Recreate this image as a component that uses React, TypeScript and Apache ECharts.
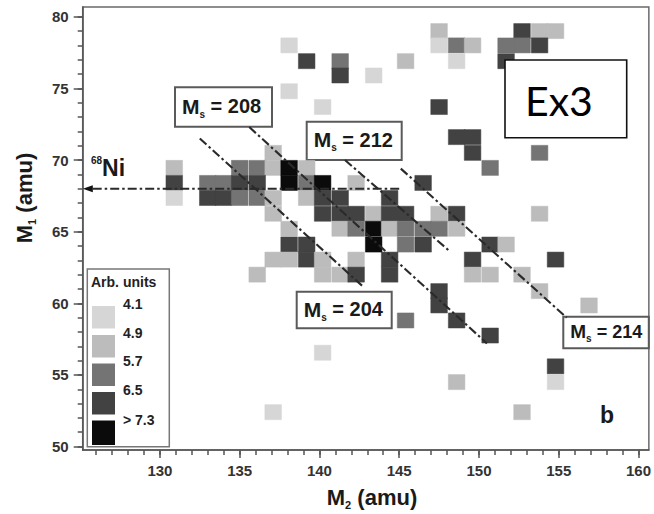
import React, { useEffect, useRef } from "react";
import * as echarts from "echarts";

// ---------- data ----------
// histogram cells: centre M2 (amu), centre M1 (amu), intensity (arb. units)
const cellM2 = [
  138.1, 139.2, 138.1, 140.2, 141.3, 141.3, 143.4, 145.4, 147.5, 147.5, 148.6, 149.6, 148.6,
  152.7, 153.8, 154.8, 151.7, 152.7, 153.8, 151.7, 147.5, 148.6, 149.6, 149.6, 150.7, 153.8,
  137.1,
  130.9, 135.0, 136.1, 137.1, 138.1, 139.2,
  130.9, 133.0, 134.0, 135.0, 136.1, 138.1, 139.2, 140.2, 142.3, 146.5,
  130.9, 133.0, 134.0, 135.0, 136.1, 137.1, 139.2, 140.2, 141.3, 144.4,
  137.1, 140.2, 141.3, 142.3, 143.4, 144.4, 145.4, 147.5, 148.6, 153.8,
  138.1, 141.3, 142.3, 143.4, 144.4, 145.4, 146.5, 147.5, 148.6,
  138.1, 139.2, 143.4, 145.4, 146.5, 150.7, 151.7,
  137.1, 138.1, 139.2, 140.2, 142.3, 144.4, 149.6, 154.8,
  136.1, 140.2, 141.3, 142.3, 144.4, 149.6, 150.7, 152.7,
  147.5, 153.8,
  147.5, 156.9,
  145.4, 148.6,
  150.7,
  140.2,
  154.8,
  148.6, 154.8,
  137.1, 152.7,
];
const cellM1 = [
  78.0, 76.9, 74.8, 73.7, 76.9, 75.9, 75.9, 76.9, 79.0, 78.0, 78.0, 78.0, 76.9,
  79.0, 79.0, 79.0, 78.0, 78.0, 78.0, 76.9, 73.7, 71.6, 71.6, 70.5, 69.45, 70.5,
  70.5,
  69.45, 69.45, 69.45, 69.45, 69.45, 69.45,
  68.4, 68.4, 68.4, 68.4, 68.4, 68.4, 68.4, 68.4, 68.4, 68.4,
  67.35, 67.35, 67.35, 67.35, 67.35, 67.35, 67.35, 67.35, 67.35, 67.35,
  66.25, 66.25, 66.25, 66.25, 66.25, 66.25, 66.25, 66.25, 66.25, 66.25,
  65.2, 65.2, 65.2, 65.2, 65.2, 65.2, 65.2, 65.2, 65.2,
  64.1, 64.1, 64.1, 64.1, 64.1, 64.1, 64.1,
  63.05, 63.05, 63.05, 63.05, 63.05, 63.05, 63.05, 63.05,
  62.0, 62.0, 62.0, 62.0, 62.0, 62.0, 62.0, 62.0,
  60.85, 60.85,
  59.85, 59.85,
  58.8, 58.8,
  57.75,
  56.55,
  55.6,
  54.5, 54.5,
  52.4, 52.4,
];
const cellCounts = [
  4.5, 6.9, 4.5, 4.5, 6.1, 6.9, 4.5, 5.3, 5.3, 4.5, 6.1, 5.3, 4.5,
  6.9, 5.3, 5.3, 6.1, 6.1, 6.9, 6.9, 6.9, 6.9, 6.9, 6.9, 6.1, 6.1,
  5.3,
  5.3, 6.1, 6.1, 5.3, 7.7, 5.3,
  6.9, 6.1, 6.1, 6.9, 6.9, 7.7, 6.1, 7.7, 5.3, 6.9,
  4.5, 6.9, 6.9, 6.1, 6.1, 5.3, 5.3, 6.9, 6.9, 6.9,
  5.3, 6.9, 6.9, 6.9, 5.3, 6.9, 6.9, 5.3, 6.9, 5.3,
  5.3, 5.3, 6.1, 7.7, 5.3, 6.1, 6.1, 6.1, 5.3,
  6.9, 6.9, 7.7, 6.1, 6.9, 6.9, 5.3,
  5.3, 5.3, 6.9, 5.3, 5.3, 6.9, 6.9, 6.9,
  5.3, 5.3, 5.3, 6.9, 6.9, 5.3, 5.3, 5.3,
  6.9, 5.3,
  6.9, 5.3,
  6.1, 6.9,
  6.9,
  4.5,
  6.9,
  5.3, 4.5,
  4.5, 5.3,
];

// constant-mass lines Ms = M1 + M2 (end points)
const msValues = [204, 208, 212, 214];
const msStartM2 = [132.5, 135.6, 141.6, 145.1];
const msStartM1 = [71.5, 72.3, 70.0, 69.4];
const msEndM2 = [142.7, 150.5, 148.2, 155.5];
const msEndM1 = [61.2, 57.2, 63.6, 59.0];

// 68Ni line
const niM1 = 68;
const niFromM2 = 145;

// legend (arb. units)
const legendEdges = [4.1, 4.9, 5.7, 6.5, 7.3];
const legendLabels = ["4.1", "4.9", "5.7", "6.5", "> 7.3"];

// axis ticks
const m2Major = [130, 135, 140, 145, 150, 155, 160];
const m2Minor = [126, 127, 128, 129, 130, 131, 132, 133, 134, 135, 136, 137, 138, 139, 140, 141, 142, 143, 144, 145, 146, 147, 148, 149, 150, 151, 152, 153, 154, 155, 156, 157, 158, 159, 160];
const m1Major = [50, 55, 60, 65, 70, 75, 80];
const m1Minor = [50, 51, 52, 53, 54, 55, 56, 57, 58, 59, 60, 61, 62, 63, 64, 65, 66, 67, 68, 69, 70, 71, 72, 73, 74, 75, 76, 77, 78, 79, 80];

// ---------- styles / layout ----------
const LEVEL_COLORS = ["#d6d6d6", "#bcbcbc", "#747474", "#424242", "#0b0b0b"];
const CELL_W = 1.04;
const CELL_H = 1.05;
const X_MIN = 125.16;
const X_MAX = 160.65;
const Y_MIN = 49.76;
const Y_MAX = 80.68;
const FONT = "'Liberation Sans', Arial, sans-serif";
const LINE_COLOR = "#2a2a2a";
const DASH = [9, 3, 2.5, 3];

const msBoxes = [
  { x: 296.7, y: 291.7, w: 95, h: 36.6, fs: 20 },
  { x: 175, y: 87.3, w: 97, h: 39.4, fs: 20 },
  { x: 306.7, y: 121.7, w: 95, h: 38.3, fs: 20 },
  { x: 563.3, y: 316.7, w: 85.5, h: 31.6, fs: 18 },
];

function colorFor(v: number) {
  let idx = 0;
  for (let i = 0; i < legendEdges.length; i++) if (v >= legendEdges[i]) idx = i;
  return LEVEL_COLORS[idx];
}

function buildOption() {
  const cellData = cellM2.map((x, i) => [x, cellM1[i], cellCounts[i]]);

  const lineSeries = msValues.map((ms, i) => ({
    type: "line",
    name: "Ms=" + ms,
    data: [
      [msStartM2[i], msStartM1[i]],
      [msEndM2[i], msEndM1[i]],
    ],
    showSymbol: false,
    symbol: "none",
    silent: true,
    z: 5,
    lineStyle: { color: LINE_COLOR, width: 2.1, type: DASH },
  }));

  const niSeries = {
    type: "line",
    name: "68Ni",
    data: [
      { value: [niFromM2, niM1], symbol: "none" },
      { value: [X_MIN + 0.32, niM1], symbol: "triangle", symbolSize: [7, 10], symbolRotate: 90 },
    ],
    showSymbol: true,
    silent: true,
    z: 5,
    itemStyle: { color: "#111" },
    lineStyle: { color: LINE_COLOR, width: 2, type: DASH },
  };

  const msGraphics: any[] = msBoxes.map((b, i) => ({
    type: "group",
    z: 50,
    children: [
      {
        type: "rect",
        shape: { x: b.x, y: b.y, width: b.w, height: b.h },
        style: { fill: "#fff", stroke: "#5a5a5a", lineWidth: 2 },
      },
      {
        type: "text",
        x: b.x + 7,
        y: b.y + b.h / 2 - 1,
        style: {
          text: "{m|M}{s|s}{t| = " + msValues[i] + "}",
          verticalAlign: "middle",
          align: "left",
          fill: "#1a1a1a",
          rich: {
            m: { fontSize: b.fs + 1, fontWeight: "bold", fontFamily: FONT, lineHeight: b.fs + 6, fill: "#1a1a1a" },
            s: { fontSize: 10, fontWeight: "bold", fontFamily: FONT, lineHeight: 10, verticalAlign: "bottom", fill: "#1a1a1a" },
            t: { fontSize: b.fs, fontWeight: "bold", fontFamily: FONT, lineHeight: b.fs + 6, fill: "#1a1a1a" },
          },
        },
      },
    ],
  }));

  const swTops = [306, 335, 363.5, 392, 420.5];
  const swH = [22.5, 22.5, 22.5, 22.5, 24.5];
  const labY = [304, 332.5, 361, 389.5, 419.5];
  const legendChildren: any[] = [
    {
      type: "rect",
      shape: { x: 87.3, y: 269, width: 82, height: 177.7 },
      style: { fill: "#fff", stroke: "#777", lineWidth: 1.5 },
    },
    {
      type: "text",
      x: 91,
      y: 282,
      style: { text: "Arb. units", fontSize: 14, fontWeight: "bold", fontFamily: FONT, fill: "#222", verticalAlign: "middle" },
    },
  ];
  legendLabels.forEach((lab, i) => {
    legendChildren.push({
      type: "rect",
      shape: { x: 92, y: swTops[i], width: 23, height: swH[i] },
      style: { fill: LEVEL_COLORS[i] },
    });
    legendChildren.push({
      type: "text",
      x: 123,
      y: labY[i],
      style: { text: lab, fontSize: 14, fontWeight: "bold", fontFamily: FONT, fill: "#222", verticalAlign: "middle" },
    });
  });

  const graphics: any[] = [
    ...msGraphics,
    { type: "group", z: 50, children: legendChildren },
    // Ex3 box
    {
      type: "rect",
      z: 50,
      shape: { x: 505, y: 60, width: 121.7, height: 77.7 },
      style: { fill: "#fff", stroke: "#111", lineWidth: 1.6 },
    },
    {
      type: "text",
      z: 51,
      x: 525,
      y: 100,
      style: { text: "Ex3", fontSize: 41, fontFamily: "Lato, 'Open Sans', sans-serif", fill: "#000", verticalAlign: "middle" },
    },
    // 68Ni label
    {
      type: "text",
      z: 50,
      x: 91,
      y: 168,
      style: {
        text: "{sup|68}{n|Ni}",
        verticalAlign: "middle",
        rich: {
          sup: { fontSize: 10, fontWeight: "bold", fontFamily: FONT, verticalAlign: "top", lineHeight: 10, fill: "#1a1a1a" },
          n: { fontSize: 23, fontWeight: "bold", fontFamily: FONT, lineHeight: 26, fill: "#1a1a1a" },
        },
      },
    },
    // panel letter
    {
      type: "text",
      z: 50,
      x: 607,
      y: 415,
      style: { text: "b", fontSize: 23, fontWeight: "bold", fontFamily: FONT, fill: "#1a1a1a", align: "center", verticalAlign: "middle" },
    },
    // axis titles
    {
      type: "text",
      z: 50,
      x: 372,
      y: 497,
      style: {
        text: "{a|M}{b|2}{a| (amu)}",
        align: "center",
        verticalAlign: "middle",
        rich: {
          a: { fontSize: 22, fontWeight: "bold", fontFamily: FONT, lineHeight: 26, fill: "#1a1a1a" },
          b: { fontSize: 11, fontWeight: "bold", fontFamily: FONT, lineHeight: 11, verticalAlign: "bottom", fill: "#1a1a1a" },
        },
      },
    },
    {
      type: "text",
      z: 50,
      x: 24,
      y: 198,
      rotation: Math.PI / 2,
      style: {
        text: "{a|M}{b|1}{a| (amu)}",
        align: "center",
        verticalAlign: "middle",
        rich: {
          a: { fontSize: 22, fontWeight: "bold", fontFamily: FONT, lineHeight: 26, fill: "#1a1a1a" },
          b: { fontSize: 11, fontWeight: "bold", fontFamily: FONT, lineHeight: 11, verticalAlign: "bottom", fill: "#1a1a1a" },
        },
      },
    },
  ];

  const axisLineStyle = { color: "#555", width: 1.5 };
  const labelStyle = { fontSize: 15, fontWeight: "bold", fontFamily: FONT, color: "#333" };

  return {
    animation: false,
    backgroundColor: "#fff",
    grid: {
      left: 82.7,
      right: 4.5,
      top: 7,
      bottom: 64,
      show: true,
      borderColor: "#6a6a6a",
      borderWidth: 1.5,
      backgroundColor: "transparent",
    },
    xAxis: [
      {
        type: "value",
        min: X_MIN,
        max: X_MAX,
        position: "bottom",
        axisLine: { show: true, onZero: false, lineStyle: axisLineStyle },
        axisTick: { show: true, customValues: m2Major, length: 8, lineStyle: axisLineStyle },
        axisLabel: { show: true, customValues: m2Major, margin: 13, ...labelStyle },
        splitLine: { show: false },
      },
      {
        type: "value",
        min: X_MIN,
        max: X_MAX,
        position: "bottom",
        axisLine: { show: false, onZero: false },
        axisTick: { show: true, customValues: m2Minor, length: 5, lineStyle: axisLineStyle },
        axisLabel: { show: false },
        splitLine: { show: false },
      },
    ],
    yAxis: [
      {
        type: "value",
        min: Y_MIN,
        max: Y_MAX,
        position: "left",
        axisLine: { show: true, onZero: false, lineStyle: axisLineStyle },
        axisTick: { show: true, customValues: m1Major, length: 9, lineStyle: axisLineStyle },
        axisLabel: { show: true, customValues: m1Major, margin: 14, ...labelStyle },
        splitLine: { show: false },
      },
      {
        type: "value",
        min: Y_MIN,
        max: Y_MAX,
        position: "left",
        axisLine: { show: false, onZero: false },
        axisTick: { show: true, customValues: m1Minor, length: 5, lineStyle: axisLineStyle },
        axisLabel: { show: false },
        splitLine: { show: false },
      },
    ],
    series: [
      {
        type: "custom",
        name: "counts",
        data: cellData,
        silent: true,
        z: 2,
        encode: { x: 0, y: 1 },
        renderItem: (_params: any, api: any) => {
          const x = api.value(0) as number;
          const y = api.value(1) as number;
          const v = api.value(2) as number;
          const a = api.coord([x - CELL_W / 2, y + CELL_H / 2]);
          const b = api.coord([x + CELL_W / 2, y - CELL_H / 2]);
          const c = colorFor(v);
          return {
            type: "rect",
            shape: { x: a[0], y: a[1], width: b[0] - a[0], height: b[1] - a[1] },
            style: { fill: c, stroke: c, lineWidth: 0.5 },
          };
        },
      },
      ...lineSeries,
      niSeries,
    ],
    graphic: graphics,
  };
}

export default function App() {
  const ref = useRef<HTMLDivElement>(null);
  useEffect(() => {
    if (!ref.current) return;
    const chart = echarts.init(ref.current, null, { renderer: "svg" });
    chart.setOption(buildOption() as any);
    return () => chart.dispose();
  }, []);
  return (
    <div
      ref={ref}
      style={{ position: "fixed", left: 0, top: 0, width: 654, height: 514, background: "#fff" }}
    />
  );
}
